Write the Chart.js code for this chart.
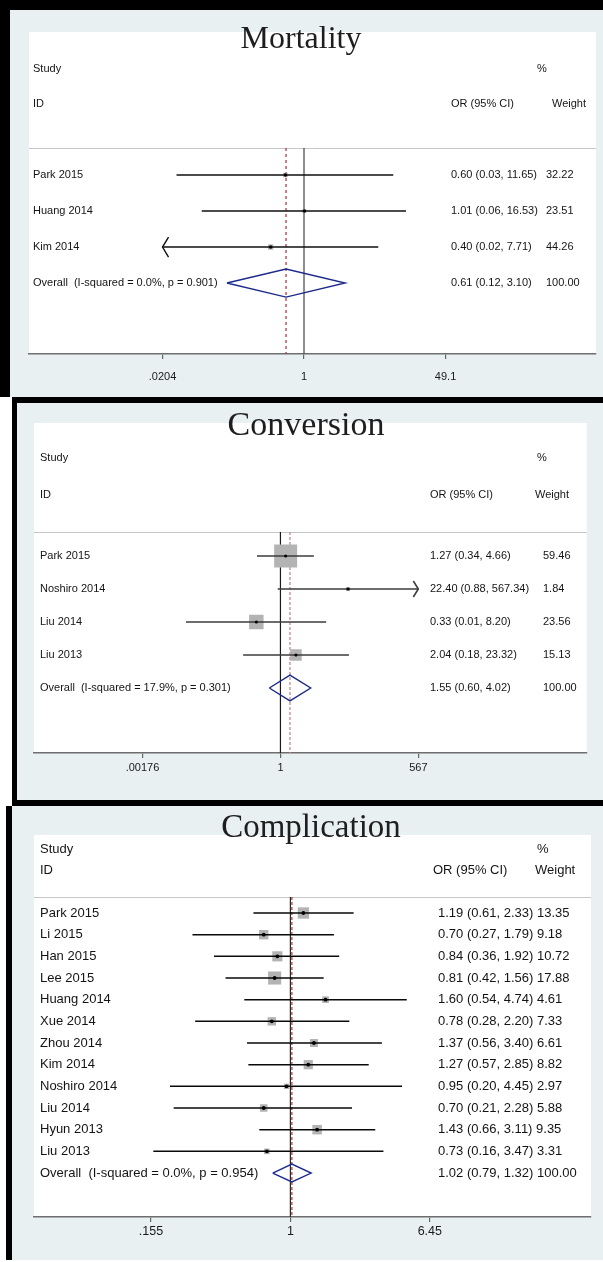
<!DOCTYPE html>
<html>
<head>
<meta charset="utf-8">
<title>Forest plots</title>
<script src="https://cdn.jsdelivr.net/npm/chart.js@4.4.1/dist/chart.umd.min.js"></script>
<style>
  body { margin: 0; background: #fff; width: 603px; height: 1262px; position: relative; overflow: hidden; }
  .panel { position: absolute; box-sizing: border-box; background: #e8f0f2; border: 0 solid #000; }
  .panel canvas { display: block; }
  #p1 { left: 0; top: 0; width: 603px; height: 397px; border-left-width: 10px; border-top-width: 10px; }
  #p2 { left: 12px; top: 397px; width: 591px; height: 409px; border-left-width: 5px; border-top-width: 6px; border-bottom-width: 6px; }
  #p3 { left: 6px; top: 806px; width: 597px; height: 454px; border-left-width: 6px; }
</style>
</head>
<body>
<div class="panel" id="p1"><canvas id="c1" width="593" height="387"></canvas></div>
<div class="panel" id="p2"><canvas id="c2" width="586" height="397"></canvas></div>
<div class="panel" id="p3"><canvas id="c3" width="591" height="454"></canvas></div>
<script>
// mortality
const mortStudies = ['Park 2015', 'Huang 2014', 'Kim 2014'];
const mortOR = [0.60, 1.01, 0.40];
const mortLow = [0.03, 0.06, 0.02];
const mortHigh = [11.65, 16.53, 7.71];
const mortWeight = [32.22, 23.51, 44.26];
const mortOverall = [0.61, 0.12, 3.10];
const mortHet = [0.0, 0.901];
const mortTicks = [0.0204, 1, 49.1];
const mortTickLabels = ['.0204', '1', '49.1'];

// conversion
const convStudies = ['Park 2015', 'Noshiro 2014', 'Liu 2014', 'Liu 2013'];
const convOR = [1.27, 22.40, 0.33, 2.04];
const convLow = [0.34, 0.88, 0.013, 0.18];
const convHigh = [4.66, 567.34, 8.20, 23.32];
const convWeight = [59.46, 1.84, 23.56, 15.13];
const convOverall = [1.55, 0.60, 4.02];
const convHet = [17.9, 0.301];
const convTicks = [0.00176, 1, 567];
const convTickLabels = ['.00176', '1', '567'];

// complication
const compStudies = ['Park 2015', 'Li 2015', 'Han 2015', 'Lee 2015', 'Huang 2014', 'Xue 2014',
  'Zhou 2014', 'Kim 2014', 'Noshiro 2014', 'Liu 2014', 'Hyun 2013', 'Liu 2013'];
const compOR = [1.19, 0.70, 0.84, 0.81, 1.60, 0.78, 1.37, 1.27, 0.95, 0.70, 1.43, 0.73];
const compLow = [0.61, 0.27, 0.36, 0.42, 0.54, 0.28, 0.56, 0.57, 0.20, 0.21, 0.66, 0.16];
const compHigh = [2.33, 1.79, 1.92, 1.56, 4.74, 2.20, 3.40, 2.85, 4.45, 2.28, 3.11, 3.47];
const compWeight = [13.35, 9.18, 10.72, 17.88, 4.61, 7.33, 6.61, 8.82, 2.97, 5.88, 9.35, 3.31];
const compOverall = [1.02, 0.79, 1.32];
const compHet = [0.0, 0.954];
const compTicks = [0.155, 1, 6.45];
const compTickLabels = ['.155', '1', '6.45'];

const panels = [
  {
    id: 'c1', title: 'Mortality', studies: mortStudies, or: mortOR, low: mortLow, high: mortHigh,
    weight: mortWeight, overall: mortOverall, het: mortHet, ticks: mortTicks, tickLabels: mortTickLabels,
    xMin: 0.000518, xMax: 3081, yMin: -3.97, yMax: 4.97,
    padding: { left: 19, right: 7, top: 22, bottom: 13 },
    font: 11, tickFont: 11, tickPad: 11.4, titleSize: 32, titleX: 272, titleY: 16,
    hdr: [-2.94, -1.97, -0.75],
    cols: { label: 4, est: 422, wt: 517, pct: 508, wtHdr: 523, orHdr: 422 },
    inlineWeight: false, boxK: 0.8, dot: 1.7, diamondH: 0.39,
    ciColor: '#111', ciWidth: 1.4, nullColor: '#444', dashColor: '#b03a48', dash: [3, 3], arrow: [6, 10]
  },
  {
    id: 'c2', title: 'Conversion', studies: convStudies, or: convOR, low: convLow, high: convHigh,
    weight: convWeight, overall: convOverall, het: convHet, ticks: convTicks, tickLabels: convTickLabels,
    xMin: 1.198e-5, xMax: 1.31e6, yMin: -4.03, yMax: 5.97,
    padding: { left: 17, right: 6, top: 20, bottom: 17 },
    font: 11, tickFont: 11, tickPad: 3.4, titleSize: 34, titleX: 272, titleY: 12,
    hdr: [-2.97, -1.85, -0.73],
    cols: { label: 6, est: 396, wt: 509, pct: 503, wtHdr: 501, orHdr: 396 },
    inlineWeight: false, boxK: 2.98, dot: 1.6, diamondH: 0.39,
    ciColor: '#3c3c3c', ciWidth: 1.6, nullColor: '#1a1a1a', dashColor: '#c98590', dash: [3, 2], arrow: [5, 8]
  },
  {
    id: 'c3', title: 'Complication', studies: compStudies, or: compOR, low: compLow, high: compHigh,
    weight: compWeight, overall: compOverall, het: compHet, ticks: compTicks, tickLabels: compTickLabels,
    xMin: 0.03245, xMax: 55.66, yMin: -3.6, yMax: 14.03,
    padding: { left: 22, right: 12, top: 29, bottom: 13 },
    font: 13, tickFont: 12.5, tickPad: 2.5, titleSize: 33, titleX: 277, titleY: 2,
    hdr: [-2.95, -1.98, -0.74],
    cols: { label: 6, est: 404, wt: 0, pct: 503, wtHdr: 501, orHdr: 399 },
    inlineWeight: true, boxK: 3.1, dot: 1.9, diamondH: 0.415,
    ciColor: '#0a0a0a', ciWidth: 1.5, nullColor: '#2a2a2a', dashColor: '#a04848', dash: [3, 2], arrow: [5, 7]
  }
];

const sans = '"Liberation Sans", Arial, sans-serif';
const fmt = v => v.toFixed(2);

function makeForest(p) {
  const n = p.studies.length;
  const tMin = p.ticks[0];
  const tMax = p.ticks[p.ticks.length - 1];
  const [est, oLow, oHigh] = p.overall;
  const sep = p.hdr[2];

  // CI segments, clipped to the tick range, broken by nulls
  const ciData = [];
  p.studies.forEach((s, i) => {
    ciData.push({ x: Math.max(p.low[i], tMin), y: i });
    ciData.push({ x: Math.min(p.high[i], tMax), y: i });
    ciData.push({ x: null, y: null });
  });
  const pointData = p.or.map((v, i) => ({ x: v, y: i }));
  const h = p.diamondH;
  const diamond = [
    { x: oLow, y: n }, { x: est, y: n - h }, { x: oHigh, y: n }, { x: est, y: n + h }, { x: oLow, y: n }
  ];

  const decor = {
    id: 'decor',
    beforeDraw(chart) {
      const { ctx, chartArea: a } = chart;
      const y = Math.round(chart.scales.y.getPixelForValue(sep)) + 0.5;
      ctx.save();
      ctx.fillStyle = '#fff';
      ctx.fillRect(a.left, a.top, a.right - a.left, a.bottom - a.top);
      ctx.strokeStyle = '#c6c6c6';
      ctx.lineWidth = 1;
      ctx.beginPath();
      ctx.moveTo(a.left, y);
      ctx.lineTo(a.right, y);
      ctx.stroke();
      ctx.restore();
    },
    afterDraw(chart) {
      const { ctx, chartArea: a } = chart;
      const xs = chart.scales.x, ys = chart.scales.y;
      ctx.save();

      // arrows where the CI runs past the axis
      ctx.strokeStyle = p.ciColor;
      ctx.lineWidth = p.ciWidth;
      const [aw, ah] = p.arrow;
      p.studies.forEach((s, i) => {
        const y = ys.getPixelForValue(i);
        if (p.low[i] < tMin) {
          const x = xs.getPixelForValue(tMin);
          ctx.beginPath(); ctx.moveTo(x + aw, y - ah); ctx.lineTo(x, y); ctx.lineTo(x + aw, y + ah); ctx.stroke();
        }
        if (p.high[i] > tMax) {
          const x = xs.getPixelForValue(tMax);
          ctx.beginPath(); ctx.moveTo(x - aw, y - ah); ctx.lineTo(x, y); ctx.lineTo(x - aw, y + ah); ctx.stroke();
        }
      });

      // text columns
      ctx.fillStyle = '#141414';
      ctx.font = p.font + 'px ' + sans;
      ctx.textBaseline = 'middle';
      ctx.textAlign = 'left';
      const c = p.cols;
      const yStudy = ys.getPixelForValue(p.hdr[0]);
      const yId = ys.getPixelForValue(p.hdr[1]);
      ctx.fillText('Study', a.left + c.label, yStudy);
      ctx.fillText('%', a.left + c.pct, yStudy);
      ctx.fillText('ID', a.left + c.label, yId);
      ctx.fillText('OR (95% CI)', a.left + c.orHdr, yId);
      ctx.fillText('Weight', a.left + c.wtHdr, yId);

      const rowText = (label, e, lo, hi, w, y) => {
        const ci = fmt(e) + ' (' + fmt(lo) + ', ' + fmt(hi) + ')';
        ctx.fillText(label, a.left + c.label, y);
        if (p.inlineWeight) {
          ctx.fillText(ci + ' ' + w, a.left + c.est, y);
        } else {
          ctx.fillText(ci, a.left + c.est, y);
          ctx.fillText(w, a.left + c.wt, y);
        }
      };
      p.studies.forEach((s, i) => {
        rowText(s, p.or[i], p.low[i], p.high[i], fmt(p.weight[i]), ys.getPixelForValue(i));
      });
      const overallLabel = 'Overall  (I-squared = ' + p.het[0].toFixed(1) + '%, p = ' + p.het[1].toFixed(3) + ')';
      rowText(overallLabel, est, oLow, oHigh, '100.00', ys.getPixelForValue(n));

      // title
      ctx.fillStyle = '#1e1e1e';
      ctx.font = p.titleSize + 'px "Liberation Serif", "Times New Roman", serif';
      ctx.textAlign = 'center';
      ctx.textBaseline = 'alphabetic';
      ctx.fillText(p.title, a.left + p.titleX, a.top + p.titleY);
      ctx.restore();
    }
  };

  return new Chart(document.getElementById(p.id), {
    type: 'scatter',
    data: {
      datasets: [
        {
          label: 'Overall estimate', data: [{ x: est, y: sep }, { x: est, y: p.yMax }],
          showLine: true, borderColor: p.dashColor, borderWidth: 1.3, borderDash: p.dash, pointRadius: 0, order: 6
        },
        {
          label: 'No effect', data: [{ x: 1, y: sep }, { x: 1, y: p.yMax }],
          showLine: true, borderColor: p.nullColor, borderWidth: 1.2, pointRadius: 0, order: 5
        },
        {
          label: 'Weight', data: pointData, pointStyle: 'rect',
          pointRadius: p.weight.map(w => p.boxK * Math.sqrt(w) * Math.SQRT1_2),
          pointBackgroundColor: '#b3b3b3', backgroundColor: '#b3b3b3', pointBorderWidth: 0, order: 4
        },
        {
          label: '95% CI', data: ciData, showLine: true, borderColor: p.ciColor, borderWidth: p.ciWidth,
          pointRadius: 0, spanGaps: false, order: 3
        },
        {
          label: 'OR', data: pointData, pointStyle: 'circle', pointRadius: p.dot,
          pointBackgroundColor: '#000', backgroundColor: '#000', pointBorderWidth: 0, order: 2
        },
        {
          label: 'Pooled OR', data: diamond, showLine: true, borderColor: '#1c2a8c', borderWidth: 1.4,
          pointRadius: 0, order: 1
        }
      ]
    },
    options: {
      responsive: false,
      animation: false,
      events: [],
      layout: { padding: p.padding },
      plugins: { legend: { display: false }, tooltip: { enabled: false } },
      scales: {
        x: {
          type: 'logarithmic',
          min: p.xMin,
          max: p.xMax,
          bounds: 'data',
          afterBuildTicks: s => { s.ticks = p.ticks.map(v => ({ value: v })); },
          afterFit: s => { s.height = 30; },
          ticks: {
            autoSkip: false, maxRotation: 0, padding: p.tickPad, color: '#1a1a1a',
            font: { family: sans, size: p.tickFont },
            callback: (v, i) => p.tickLabels[i]
          },
          grid: { drawOnChartArea: false, drawTicks: true, tickLength: 5, color: '#666', lineWidth: 1.2 },
          border: { display: true, color: '#6e6e6e', width: 1.4 }
        },
        y: {
          type: 'linear', display: false, reverse: true, bounds: 'data',
          min: p.yMin, max: p.yMax
        }
      }
    },
    plugins: [decor]
  });
}

panels.forEach(makeForest);
</script>
</body>
</html>
